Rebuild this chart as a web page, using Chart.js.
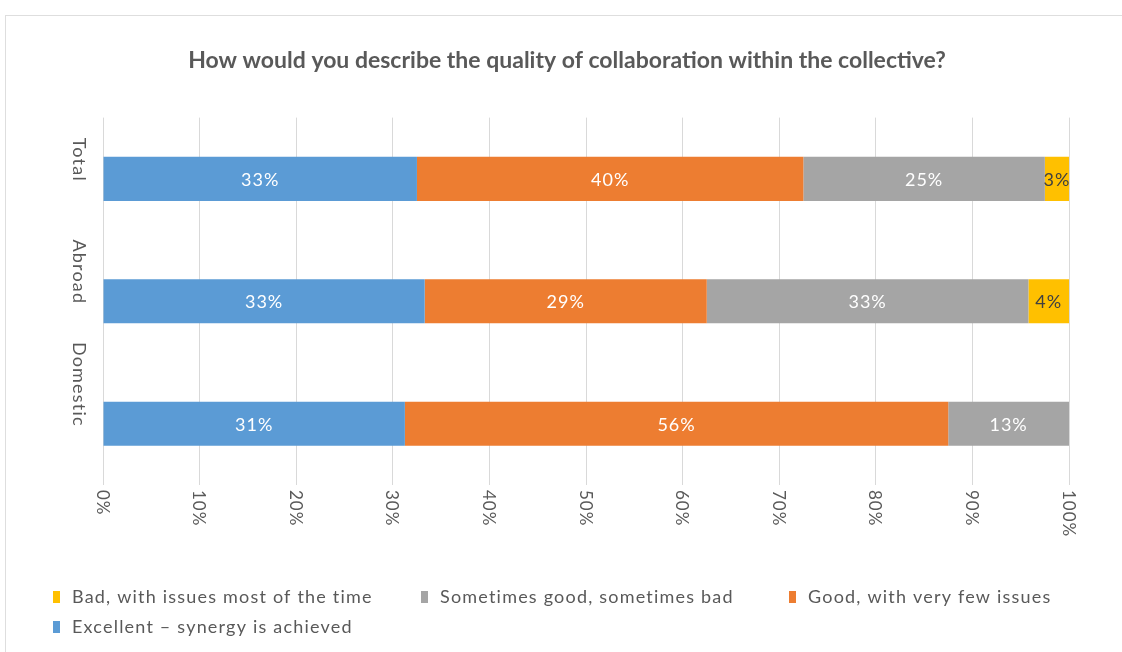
<!DOCTYPE html>
<html>
<head>
<meta charset="utf-8">
<script src="https://cdn.jsdelivr.net/npm/chart.js@4"></script>
<style>
  body { margin: 0; background: #fff; }
  #wrap { position: relative; width: 1122px; height: 652px; }
  #frame { position: absolute; left: 5px; top: 15px; right: 0; bottom: 0;
           border-top: 1px solid #dedede; border-left: 1px solid #dedede; }
  canvas { position: absolute; left: 0; top: 0; }
</style>
</head>
<body>
<div id="wrap">
  <div id="frame"></div>
  <canvas id="chart"></canvas>
</div>
<script>
const categories = ['Total', 'Abroad', 'Domestic'];
const excellent = [32.5, 33.3, 31.25];
const good = [40, 29.2, 56.25];
const sometimes = [25, 33.3, 12.5];
const bad = [2.5, 4.2, 0];
const tickLabels = ['0%', '10%', '20%', '30%', '40%', '50%', '60%', '70%', '80%', '90%', '100%'];

const FONT = 'Lato, "Open Sans", sans-serif';
const TEXT = '#595959';

// rotated tick labels (Excel draws them top-to-bottom)
const rotatedTicks = {
  id: 'rotatedTicks',
  afterDraw(chart) {
    const { ctx, scales } = chart;
    ctx.save();
    ctx.fillStyle = TEXT;
    ctx.font = '18px ' + FONT;
    ctx.letterSpacing = '1.2px';
    // y categories
    scales.y.ticks.forEach((t, i) => {
      const y = scales.y.getPixelForTick(i);
      ctx.save();
      ctx.translate(79, y + 3);
      ctx.rotate(Math.PI / 2);
      ctx.textAlign = 'right';
      ctx.textBaseline = 'middle';
      ctx.fillText(categories[i], 0, 0);
      ctx.restore();
    });
    // x percentages
    ctx.font = '17px ' + FONT;
    ctx.letterSpacing = '1px';
    scales.x.ticks.forEach((t, i) => {
      const x = scales.x.getPixelForTick(i);
      ctx.save();
      ctx.translate(x - 1, chart.chartArea.bottom + 5);
      ctx.rotate(Math.PI / 2);
      ctx.textAlign = 'left';
      ctx.textBaseline = 'middle';
      ctx.fillText(tickLabels[i], 0, 0);
      ctx.restore();
    });
    ctx.restore();
  }
};

const valueLabels = {
  id: 'valueLabels',
  afterDatasetsDraw(chart) {
    const { ctx } = chart;
    ctx.save();
    ctx.font = '18px ' + FONT;
    ctx.letterSpacing = '1px';
    ctx.textAlign = 'center';
    ctx.textBaseline = 'middle';
    chart.data.datasets.forEach((ds, di) => {
      chart.getDatasetMeta(di).data.forEach((bar, i) => {
        const v = ds.data[i];
        if (!v) return;
        ctx.fillStyle = ds.labelColor;
        ctx.fillText(Math.round(v) + '%', (bar.x + bar.base) / 2, bar.y + 1);
      });
    });
    ctx.restore();
  }
};

// Excel-style legend: fixed columns, reversed order
const columnLegend = {
  id: 'columnLegend',
  afterDraw(chart) {
    const { ctx } = chart;
    const items = chart.data.datasets.slice().reverse();
    ctx.save();
    ctx.font = '18px ' + FONT;
    ctx.letterSpacing = '1.2px';
    ctx.textBaseline = 'middle';
    ctx.textAlign = 'left';
    items.forEach((ds, i) => {
      const col = i % 3, row = Math.floor(i / 3);
      const x = 53 + col * 368;
      const y = 597 + row * 30;
      ctx.fillStyle = ds.backgroundColor;
      ctx.fillRect(x, y - 6, 7, 12);
      ctx.fillStyle = TEXT;
      ctx.fillText(ds.label, x + 19, y);
    });
    ctx.restore();
  }
};

new Chart(document.getElementById('chart'), {
  type: 'bar',
  data: {
    labels: categories,
    datasets: [
      { label: 'Excellent – synergy is achieved', data: excellent, backgroundColor: '#5b9bd5', labelColor: '#ffffff' },
      { label: 'Good, with very few issues', data: good, backgroundColor: '#ed7d31', labelColor: '#ffffff' },
      { label: 'Sometimes good, sometimes bad', data: sometimes, backgroundColor: '#a5a5a5', labelColor: '#ffffff' },
      { label: 'Bad, with issues most of the time', data: bad, backgroundColor: '#ffc000', labelColor: '#404040' }
    ]
  },
  options: {
    indexAxis: 'y',
    responsive: true,
    maintainAspectRatio: false,
    animation: false,
    barPercentage: 0.45,
    categoryPercentage: 0.8,
    layout: { padding: { left: 65, right: 53, top: 2, bottom: 0 } },
    scales: {
      x: {
        stacked: true,
        min: 0,
        max: 100,
        ticks: { display: false, stepSize: 10 },
        grid: { color: '#d9d9d9', drawTicks: false },
        border: { display: false },
        afterFit: (s) => { s.height = 167; }
      },
      y: {
        stacked: true,
        ticks: { display: false },
        grid: { display: false },
        border: { display: false },
        afterFit: (s) => { s.width = 38; }
      }
    },
    plugins: {
      legend: { display: false },
      tooltip: { enabled: false },
      title: {
        display: true,
        text: 'How would you describe the quality of collaboration within the collective?',
        color: TEXT,
        font: { family: FONT, size: 23, weight: 'bold' },
        padding: { top: 45, bottom: 43 }
      }
    }
  },
  plugins: [rotatedTicks, valueLabels, columnLegend]
});
</script>
</body>
</html>
